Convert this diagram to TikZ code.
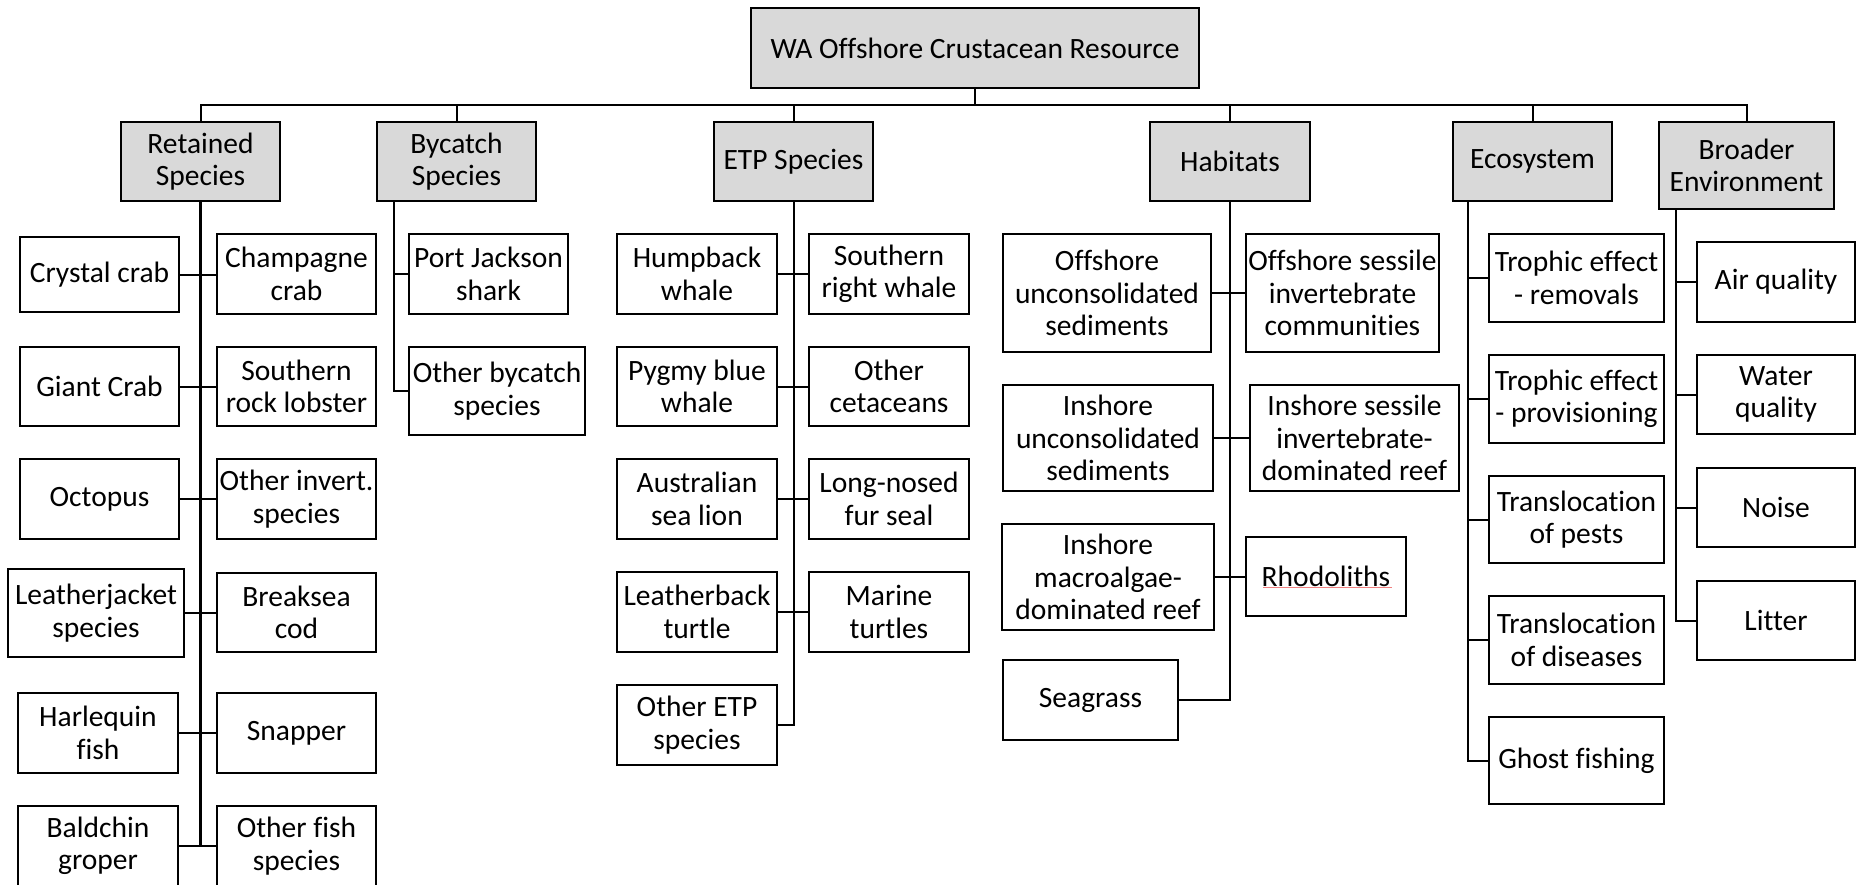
\documentclass[tikz,border=0pt]{standalone}
\usepackage{fontspec}
\setmainfont{Carlito}[Ligatures=CommonOff]
\definecolor{hdrgray}{HTML}{D9D9D9}
\definecolor{spellred}{HTML}{F08080}
\begin{document}
\begin{tikzpicture}[x=1pt,y=-1pt,
  box/.style={draw=black, line width=1.8pt, inner sep=0pt, align=center},
  hdr/.style={box, fill=hdrgray, font=\fontsize{29.5}{32.5}\selectfont},
  leaf/.style={box, fill=white, font=\fontsize{29.5}{32.5}\selectfont},
  sz/.style 2 args={minimum width=#1pt, minimum height=#2pt},
  conn/.style={line width=2pt},
  thick conn/.style={line width=2.6pt}]

\useasboundingbox (0,0) rectangle (1856,884);

% top
\node[hdr, sz={448}{80}] (top) at (975,48) {WA Offshore Crustacean Resource};

% headers
\node[hdr, sz={159}{79}] (ret) at (200.5,161.5) {Retained\\Species};
\node[hdr, sz={159}{79}] (byc) at (456.5,161.5) {Bycatch\\Species};
\node[hdr, sz={159}{79}] (etp) at (793.5,161.5) {ETP Species};
\node[hdr, sz={160}{79}] (hab) at (1230,161.5) {Habitats};
\node[hdr, sz={159}{79}] (eco) at (1532.5,161.5) {Ecosystem};
\node[hdr, sz={175}{87}] (brd) at (1746.5,165.5) {Broader\\Environment};

% retained species
\node[leaf, sz={159}{75}] (crystal) at (99.5,274.5) {Crystal crab};
\node[leaf, sz={159}{80}] (champ) at (296.5,274) {Champagne\\crab};
\node[leaf, sz={159}{79}] (giant) at (99.5,386.5) {Giant Crab};
\node[leaf, sz={159}{79}] (srl) at (296.5,386.5) {Southern\\rock lobster};
\node[leaf, sz={159}{80}] (octo) at (99.5,499) {Octopus};
\node[leaf, sz={159}{80}] (oinv) at (296.5,499) {Other invert.\\species};
\node[leaf, sz={176}{88}] (leather) at (96,613) {Leatherjacket\\species};
\node[leaf, sz={159}{79}] (breaksea) at (296.5,612.5) {Breaksea\\cod};
\node[leaf, sz={160}{80}] (harle) at (98,733) {Harlequin\\fish};
\node[leaf, sz={159}{80}] (snapper) at (296.5,733) {Snapper};
\node[leaf, sz={160}{80}] (baldchin) at (98,846) {Baldchin\\groper};
\node[leaf, sz={159}{80}] (ofish) at (296.5,846) {Other fish\\species};

% bycatch
\node[leaf, sz={159}{80}] (pj) at (488.5,274) {Port Jackson\\shark};
\node[leaf, sz={176}{88}] (obyc) at (497,391) {Other bycatch\\species};

% ETP
\node[leaf, sz={160}{80}] (hump) at (697,274) {Humpback\\whale};
\node[leaf, sz={160}{80}] (srw) at (889,274) {Southern\\right whale};
\node[leaf, sz={160}{79}] (pbw) at (697,386.5) {Pygmy blue\\whale};
\node[leaf, sz={160}{79}] (ocet) at (889,386.5) {Other\\cetaceans};
\node[leaf, sz={160}{80}] (asl) at (697,499) {Australian\\sea lion};
\node[leaf, sz={160}{80}] (lnfs) at (889,499) {Long-nosed\\fur seal};
\node[leaf, sz={160}{80}] (lbt) at (697,612) {Leatherback\\turtle};
\node[leaf, sz={160}{80}] (mt) at (889,612) {Marine\\turtles};
\node[leaf, sz={160}{80}] (oetp) at (697,725) {Other ETP\\species};

% habitats
\node[leaf, sz={208}{118}] (ous) at (1107,293) {Offshore\\unconsolidated\\sediments};
\node[leaf, sz={193}{118}] (osic) at (1342.5,293) {Offshore sessile\\invertebrate\\communities};
\node[leaf, sz={210}{106}] (ius) at (1108,438) {Inshore\\unconsolidated\\sediments};
\node[leaf, sz={209}{106}] (isidr) at (1354.5,438) {Inshore sessile\\invertebrate-\\dominated reef};
\node[leaf, sz={212}{106}] (imdr) at (1108,577) {Inshore\\macroalgae-\\dominated reef};
\node[leaf, sz={160}{79}] (rhod) at (1326,576.5) {Rhodoliths};
\node[leaf, sz={175}{80}] (seag) at (1090.5,700) {Seagrass};
\draw[spellred, line width=0.7pt] (1263,587) -- (1392,587);

% ecosystem
\node[leaf, sz={175}{88}] (tr) at (1576.5,278) {Trophic effect\\- removals};
\node[leaf, sz={175}{88}] (tp) at (1576.5,399) {Trophic effect\\- provisioning};
\node[leaf, sz={175}{87}] (tlp) at (1576.5,519.5) {Translocation\\of pests};
\node[leaf, sz={175}{88}] (tld) at (1576.5,640) {Translocation\\of diseases};
\node[leaf, sz={175}{87}] (gf) at (1576.5,760.5) {Ghost fishing};

% broader environment
\node[leaf, sz={158}{80}] (air) at (1776,282) {Air quality};
\node[leaf, sz={158}{79}] (water) at (1776,394.5) {Water\\quality};
\node[leaf, sz={158}{79}] (noise) at (1776,507.5) {Noise};
\node[leaf, sz={158}{79}] (litter) at (1776,620.5) {Litter};

% bus
\coordinate (bus) at (975,105);
\draw[thick conn] (top.south) -- (top.south |- bus);
\draw[conn] (ret.north) |- (bus) -| (brd.north);
\foreach \h in {byc,etp,hab,eco}
  \draw[conn] (\h.north) -- (\h.north |- bus);

% retained trunk
\draw[thick conn] (ret.south) -- (ret.south |- baldchin.east);
\foreach \l/\r in {crystal/champ, giant/srl, octo/oinv, leather/breaksea, harle/snapper, baldchin/ofish}
  \draw[conn] (\l.east) -- (\l.east -| \r.west);

% bycatch trunk
\coordinate (bycT) at (394,201);
\draw[conn] (bycT) |- (obyc.west);
\draw[conn] (bycT |- pj.west) -- (pj.west);

% ETP trunk
\draw[conn] (etp.south) |- (oetp.east);
\foreach \l/\r in {hump/srw, pbw/ocet, asl/lnfs, lbt/mt}
  \draw[conn] (\l.east) -- (\l.east -| \r.west);

% habitats trunk
\draw[conn] (hab.south) |- (seag.east);
\foreach \l/\r in {ous/osic, ius/isidr, imdr/rhod}
  \draw[conn] (\l.east) -- (\l.east -| \r.west);

% ecosystem trunk
\coordinate (ecoT) at (1468,201);
\draw[conn] (ecoT) |- (gf.west);
\foreach \n in {tr,tp,tlp,tld}
  \draw[conn] (ecoT |- \n.west) -- (\n.west);

% broader trunk
\coordinate (brdT) at (1676,209);
\draw[conn] (brdT) |- (litter.west);
\foreach \n in {air,water,noise}
  \draw[conn] (brdT |- \n.west) -- (\n.west);
\end{tikzpicture}
\end{document}
